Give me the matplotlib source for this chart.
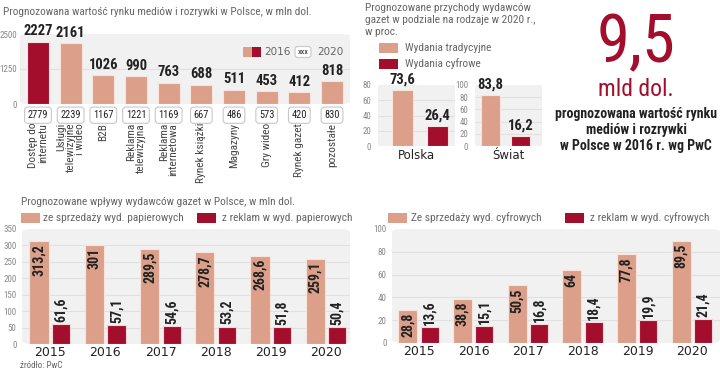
import matplotlib
matplotlib.use("Agg")
import matplotlib.pyplot as plt
import matplotlib.transforms as mtransforms
from matplotlib.patches import FancyBboxPatch, Rectangle

# Data
media_cats = ["Dostęp do\ninternetu", "Usługi\ntelewizyjne\ni wideo", "B2B",
              "Reklama\ntelewizyjna", "Reklama\ninternetowa", "Rynek książki",
              "Magazyny", "Gry wideo", "Rynek gazet", "pozostałe"]
media_2016 = [2227, 2161, 1026, 990, 763, 688, 511, 453, 412, 818]
media_2020 = [2779, 2239, 1167, 1221, 1169, 667, 486, 573, 420, 830]
highlight = 0

regions = ["Polska", "Świat"]
traditional_share = [73.6, 83.8]
digital_share = [26.4, 16.2]

years = ["2015", "2016", "2017", "2018", "2019", "2020"]
paper_sales = [313.2, 301, 289.5, 278.7, 268.6, 259.1]
paper_ads = [61.6, 57.1, 54.6, 53.2, 51.8, 50.4]
digital_sales = [28.8, 38.8, 50.5, 64, 77.8, 89.5]
digital_ads = [13.6, 15.1, 16.8, 18.4, 19.9, 21.4]

SALMON = "#dca08a"
RED = "#a30e2c"
PANEL = "#f1f1f1"
GRID = "#e0e0e0"
GRAY = "#666666"
DARK = "#222222"
NARROW = ["Roboto Condensed", "Archivo Narrow", "DejaVu Sans"]
WIDE = ["DejaVu Sans"]

W, H = 720, 371
fig = plt.figure(figsize=(7.2, 3.71), dpi=100)
fig.patch.set_facecolor("white")


def px_axes(x0, y0, x1, y1):
    return fig.add_axes([x0 / W, 1 - y1 / H, (x1 - x0) / W, (y1 - y0) / H])


def ftext(x, y, s, **kw):
    return fig.text(x / W, 1 - y / H, s, **kw)


def fsquare(x0, y0, w, h, color):
    fig.add_artist(Rectangle((x0 / W, 1 - (y0 + h) / H), w / W, h / H,
                             transform=fig.transFigure, facecolor=color,
                             edgecolor="none"))


def fmt(v):
    return f"{v:g}".replace(".", ",")


def style_axes(ax, ticks, labelsize=6.5, pad=2):
    ax.patch.set_visible(False)
    for s in ax.spines.values():
        s.set_visible(False)
    ax.add_patch(FancyBboxPatch((0, 0), 1, 1, transform=ax.transAxes,
                                boxstyle="round,pad=0,rounding_size=0.03",
                                facecolor=PANEL, edgecolor="none", zorder=0,
                                clip_on=False))
    ax.set_yticks(ticks)
    ax.set_xticks([])
    ax.tick_params(axis="y", length=0, pad=pad, labelsize=labelsize,
                   labelcolor="#888888")
    for lab in ax.get_yticklabels():
        lab.set_family(NARROW)
    for t in ticks[1:-1]:
        ax.axhline(t, color=GRID, lw=0.8, zorder=1)


# ---------- top-left: media market ----------
ax1 = px_axes(20, 34, 350, 104)
x = range(len(media_cats))
colors = [RED if i == highlight else SALMON for i in x]
ax1.bar(x, media_2016, width=0.67, color=colors, edgecolor="#f7e4dc",
        linewidth=0.8, zorder=2)
ax1.set_xlim(-0.55, 9.55)
ax1.set_ylim(0, 2500)
style_axes(ax1, [0, 1250, 2500], labelsize=6.5, pad=2)
ax1.axhline(1250, color=GRID, lw=0.8, zorder=1)
for i, v in enumerate(media_2016):
    ax1.annotate(str(v), (i, v), xytext=(0, 2.5), textcoords="offset points",
                 ha="center", va="bottom", fontsize=10.5, fontweight="bold",
                 family=NARROW, color=DARK, annotation_clip=False)
blend1 = mtransforms.blended_transform_factory(ax1.transData, ax1.transAxes)
for i, v in enumerate(media_2020):
    ax1.text(i, -0.16, str(v), transform=blend1, ha="center", va="center",
             fontsize=7.5, family=NARROW, color=DARK, clip_on=False,
             bbox=dict(boxstyle="round,pad=0.3,rounding_size=0.3",
                       facecolor="white", edgecolor="#c8c8c8", lw=0.8))
for i, c in enumerate(media_cats):
    ax1.text(i, -0.27, c, transform=blend1, rotation=90, ha="center",
             va="top", multialignment="right", fontsize=8.2, family=NARROW,
             color="#444444", linespacing=0.95, clip_on=False)

ftext(3, 12, "Prognozowana wartość rynku mediów i rozrywki w Polsce, w mln dol.",
      fontsize=8.2, family=NARROW, color=GRAY, va="center")
# legend top-left
fsquare(243, 47, 9, 10, SALMON)
fsquare(252, 47, 9, 10, RED)
ftext(264, 52, "2016", fontsize=7.5, family=WIDE, color=GRAY, va="center")
ftext(303, 52, "xxx", fontsize=6, family=NARROW, color=DARK, va="center",
      ha="center", bbox=dict(boxstyle="round,pad=0.3,rounding_size=0.3",
                             facecolor="white", edgecolor="#c8c8c8", lw=0.8))
ftext(317, 52, "2020", fontsize=7.5, family=WIDE, color=GRAY, va="center")

# ---------- top-middle: traditional vs digital ----------
ftext(365, 8, "Prognozowane przychody wydawców", fontsize=8.2, family=NARROW,
      color=GRAY, va="center")
ftext(365, 20, "gazet w podziale na rodzaje w 2020 r.,", fontsize=8.2,
      family=NARROW, color=GRAY, va="center")
ftext(365, 32, "w proc.", fontsize=8.2, family=NARROW, color=GRAY, va="center")
fsquare(379, 43, 19, 10, SALMON)
ftext(405, 48, "Wydania tradycyjne", fontsize=8.2, family=NARROW, color=GRAY,
      va="center")
fsquare(379, 59, 19, 10, RED)
ftext(405, 64, "Wydania cyfrowe", fontsize=8.2, family=NARROW, color=GRAY,
      va="center")

small_specs = [(378, 455, (-0.7, 1.5), 80, [0, 20, 40, 60, 80]),
               (475, 542, (-0.5, 1.7), 100, [0, 20, 40, 60, 80, 100])]
for k, (x0, x1, xl, ymax, ticks) in enumerate(small_specs):
    ax = px_axes(x0, 85, x1, 146)
    vals = [traditional_share[k], digital_share[k]]
    ax.bar([0, 1], vals, width=0.62, color=[SALMON, RED], edgecolor="#f7e4dc",
           linewidth=0.8, zorder=2)
    ax.set_xlim(*xl)
    ax.set_ylim(0, ymax)
    style_axes(ax, ticks, labelsize=6.3, pad=5)
    for i, v in enumerate(vals):
        ax.annotate(fmt(v), (i, v), xytext=(0, 2.5), textcoords="offset points",
                    ha="center", va="bottom", fontsize=10.5, fontweight="bold",
                    family=NARROW, color=DARK, annotation_clip=False)
    ax.text(0.5, -0.05, regions[k], transform=ax.transAxes, ha="center",
            va="top", fontsize=8.5, family=WIDE, color=DARK)

# ---------- top-right: headline ----------
ftext(636, 44, "9,5", fontsize=48, family=NARROW, color=RED, ha="center",
      va="center")
ftext(636, 89, "mld dol.", fontsize=17, family=NARROW, color=RED, ha="center",
      va="center")
ftext(636, 130, "prognozowana wartość rynku\nmediów i rozrywki\nw Polsce w 2016 r. wg PwC",
      fontsize=10, family=NARROW, fontweight="bold", color=DARK, ha="center",
      va="center", linespacing=1.22)


# ---------- bottom: newspaper revenues ----------
def grouped(ax, a, b, ymax, ticks):
    xs = range(len(years))
    ax.bar([i - 0.2 for i in xs], a, width=0.35, color=SALMON,
           edgecolor="#f7e4dc", linewidth=0.8, zorder=2)
    ax.bar([i + 0.2 for i in xs], b, width=0.33, color=RED,
           edgecolor="#f2d8d8", linewidth=0.8, zorder=2)
    ax.set_ylim(0, ymax)
    style_axes(ax, ticks, labelsize=6.5, pad=4)
    for i, v in enumerate(a):
        ax.annotate(fmt(v), (i - 0.2, v), xytext=(0, -2),
                    textcoords="offset points", rotation=90, ha="center",
                    va="top", fontsize=10, fontweight="bold", family=NARROW,
                    color=DARK)
    for i, v in enumerate(b):
        ax.annotate(fmt(v), (i + 0.2, v), xytext=(0, 1.5),
                    textcoords="offset points", rotation=90, ha="center",
                    va="bottom", fontsize=10, fontweight="bold", family=NARROW,
                    color=DARK, annotation_clip=False)
    blend = mtransforms.blended_transform_factory(ax.transData, ax.transAxes)
    for i, y in enumerate(years):
        ax.text(i, -0.02, y, transform=blend, ha="center", va="top",
                fontsize=9, family=WIDE, color=DARK, clip_on=False)


ax4 = px_axes(22, 229, 350, 344)
ax4.set_xlim(-0.51, 5.43)
grouped(ax4, paper_sales, paper_ads, 350, list(range(0, 351, 50)))
ftext(21, 202, "Prognozowane wpływy wydawców gazet w Polsce, w mln dol.",
      fontsize=8.2, family=NARROW, color=GRAY, va="center")
fsquare(21, 213, 19, 10, SALMON)
ftext(43, 218, "ze sprzedaży wyd. papierowych", fontsize=8.2, family=NARROW,
      color=GRAY, va="center")
fsquare(197, 213, 19, 10, RED)
ftext(222, 218, "z reklam w wyd. papierowych", fontsize=8.2, family=NARROW,
      color=GRAY, va="center")

ax5 = px_axes(392, 229, 720, 343)
ax5.set_xlim(-0.49, 5.51)
grouped(ax5, digital_sales, digital_ads, 100, list(range(0, 101, 20)))
fsquare(388, 213, 19, 10, SALMON)
ftext(411, 218, "Ze sprzedaży wyd. cyfrowych", fontsize=8.2, family=NARROW,
      color=GRAY, va="center")
fsquare(565, 213, 19, 10, RED)
ftext(590, 218, "z reklam w wyd. cyfrowych", fontsize=8.2, family=NARROW,
      color=GRAY, va="center")

ftext(20, 366, "źródło: PwC", fontsize=6.5, family=NARROW, color=GRAY,
      va="center")

fig.savefig("out.png", dpi=100)
